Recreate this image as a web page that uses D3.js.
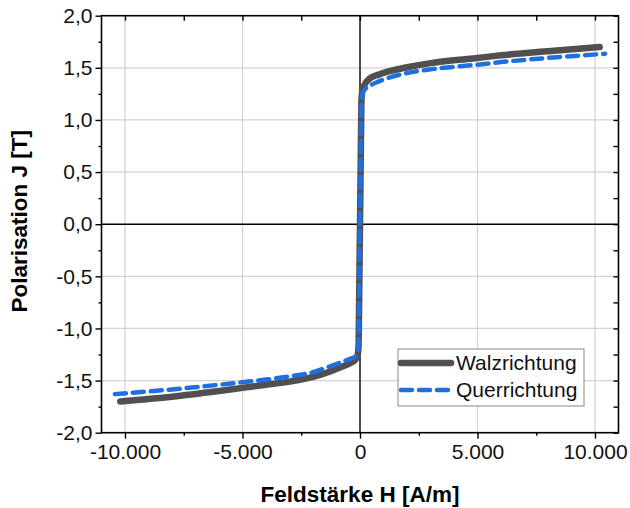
<!DOCTYPE html>
<html><head><meta charset="utf-8">
<script src="https://cdn.jsdelivr.net/npm/d3@7"></script>
<style>body{margin:0;background:#fff}svg{display:block}text{font-family:"Liberation Sans",Arial,sans-serif}</style>
</head><body><svg id="c" width="630" height="508"></svg>
<script>
// Walzrichtung (solid gray)
const walzH = [-10200,-8000,-6000,-5000,-4000,-3000,-2000,-1300,-800,-400,-200,-100,-60,-30,0,30,60,100,200,400,800,1300,2000,3000,4000,5000,6000,8000,10200];
const walzJ = [-1.70,-1.655,-1.60,-1.57,-1.54,-1.51,-1.465,-1.415,-1.37,-1.33,-1.30,-1.26,-1.15,-0.6,0,0.6,1.17,1.28,1.34,1.395,1.435,1.47,1.505,1.545,1.573,1.595,1.62,1.66,1.70];
// Querrichtung (dashed blue)
const querH = [-10430,-8000,-6000,-5000,-4000,-3000,-2000,-1300,-800,-400,-200,-100,-60,-30,0,30,60,100,200,400,800,1300,2000,3000,4000,5000,6000,8000,10430];
const querJ = [-1.63,-1.585,-1.54,-1.515,-1.49,-1.46,-1.42,-1.365,-1.325,-1.29,-1.27,-1.24,-1.10,-0.6,0,0.6,1.12,1.25,1.29,1.325,1.37,1.41,1.45,1.485,1.51,1.53,1.555,1.595,1.635];
const xMajor = [-10000,-5000,0,5000,10000];
const xMinor = [-7500,-2500,2500,7500];
const yMajor = [-2,-1.5,-1,-0.5,0,0.5,1,1.5,2];
const yMinor = [-1.75,-1.25,-0.75,-0.25,0.25,0.75,1.25,1.75];
const seriesNames = ["Walzrichtung","Querrichtung"];
const xTitle = "Feldstärke H [A/m]";
const yTitle = "Polarisation J [T]";

const loc = d3.formatLocale({decimal:",",thousands:".",grouping:[3],currency:["","€"],minus:"-"});
const fx = loc.format(",d"), fy = loc.format(".1f");

const svg = d3.select("#c");
const L=101.5,R=618.5,T=15.7,B=432.7;
const x = d3.scaleLinear().domain([-11000,11000]).range([L,R]);
const y = d3.scaleLinear().domain([-2,2]).range([B,T]);

// grid
const g = svg.append("g");
g.selectAll(".gx").data(xMajor.filter(d=>d!==0)).join("line")
  .attr("x1",d=>x(d)).attr("x2",d=>x(d)).attr("y1",T).attr("y2",B)
  .attr("stroke","#d2d2d2").attr("stroke-width",1.2);
g.selectAll(".gy").data(yMajor.filter(d=>d!==0&&d!==2&&d!==-2)).join("line")
  .attr("y1",d=>y(d)).attr("y2",d=>y(d)).attr("x1",L).attr("x2",R)
  .attr("stroke","#d2d2d2").attr("stroke-width",1.2);
// zero lines
svg.append("line").attr("x1",x(0)).attr("x2",x(0)).attr("y1",T).attr("y2",B).attr("stroke","#000").attr("stroke-width",1.4);
svg.append("line").attr("x1",L).attr("x2",R).attr("y1",y(0)).attr("y2",y(0)).attr("stroke","#000").attr("stroke-width",1.4);

// curves
const line = d3.line().x(d=>x(d[0])).y(d=>y(d[1])).curve(d3.curveMonotoneX);
const walz = walzH.map((h,i)=>[h,walzJ[i]]);
const quer = querH.map((h,i)=>[h,querJ[i]]);
svg.append("path").attr("d",line(walz)).attr("fill","none").attr("stroke","#505050").attr("stroke-width",6.5).attr("stroke-linecap","round").attr("stroke-linejoin","round");
svg.append("path").attr("d",line(quer)).attr("fill","none").attr("stroke","#1f6fe0").attr("stroke-width",4.5).attr("stroke-dasharray","11 7").attr("stroke-linecap","round").attr("stroke-linejoin","round");

// axes
function style(sel){sel.select(".domain").remove();sel.selectAll("line").attr("stroke","#000").attr("stroke-width",1.4);sel.selectAll("text").attr("font-size",21).attr("fill","#111");}
svg.append("g").attr("transform",`translate(0,${B})`).call(d3.axisBottom(x).tickValues(xMajor).tickFormat(fx).tickSize(6).tickPadding(5)).call(style);
svg.append("g").attr("transform",`translate(0,${B})`).call(d3.axisBottom(x).tickValues(xMinor).tickFormat("").tickSize(3)).call(style);
svg.append("g").attr("transform",`translate(${L},0)`).call(d3.axisLeft(y).tickValues(yMajor).tickFormat(fy).tickSize(6).tickPadding(3)).call(style);
svg.append("g").attr("transform",`translate(${L},0)`).call(d3.axisLeft(y).tickValues(yMinor).tickFormat("").tickSize(3)).call(style);
svg.append("g").attr("transform",`translate(0,${T})`).call(d3.axisBottom(x).tickValues(xMajor.concat(xMinor)).tickFormat("").tickSize(5)).call(style);
svg.append("g").attr("transform",`translate(${R},0)`).call(d3.axisLeft(y).tickValues(yMajor.concat(yMinor)).tickFormat("").tickSize(5)).call(style);
// frame
svg.append("rect").attr("x",L).attr("y",T).attr("width",R-L).attr("height",B-T).attr("fill","none").attr("stroke","#000").attr("stroke-width",1.6);

// titles
svg.append("text").attr("x",x(0)).attr("y",502).attr("text-anchor","middle").attr("font-weight","bold").attr("font-size",22.5).text(xTitle);
svg.append("text").attr("transform",`translate(27,${y(0)-3}) rotate(-90)`).attr("text-anchor","middle").attr("font-weight","bold").attr("font-size",22.5).text(yTitle);

// legend
const lg = svg.append("g");
lg.append("rect").attr("x",398).attr("y",349).attr("width",186).attr("height",57).attr("fill","#fff").attr("stroke","#888").attr("stroke-width",1);
const ly = [363,390];
lg.append("line").attr("x1",401).attr("x2",451).attr("y1",ly[0]).attr("y2",ly[0]).attr("stroke","#505050").attr("stroke-width",6.5).attr("stroke-linecap","round");
lg.append("line").attr("x1",401).attr("x2",451).attr("y1",ly[1]).attr("y2",ly[1]).attr("stroke","#1f6fe0").attr("stroke-width",4.5).attr("stroke-dasharray","11 7").attr("stroke-linecap","round");
lg.selectAll("text.l").data(seriesNames).join("text").attr("x",456).attr("y",(d,i)=>ly[i]+7).attr("font-size",21).attr("fill","#111").text(d=>d);
</script></body></html>
